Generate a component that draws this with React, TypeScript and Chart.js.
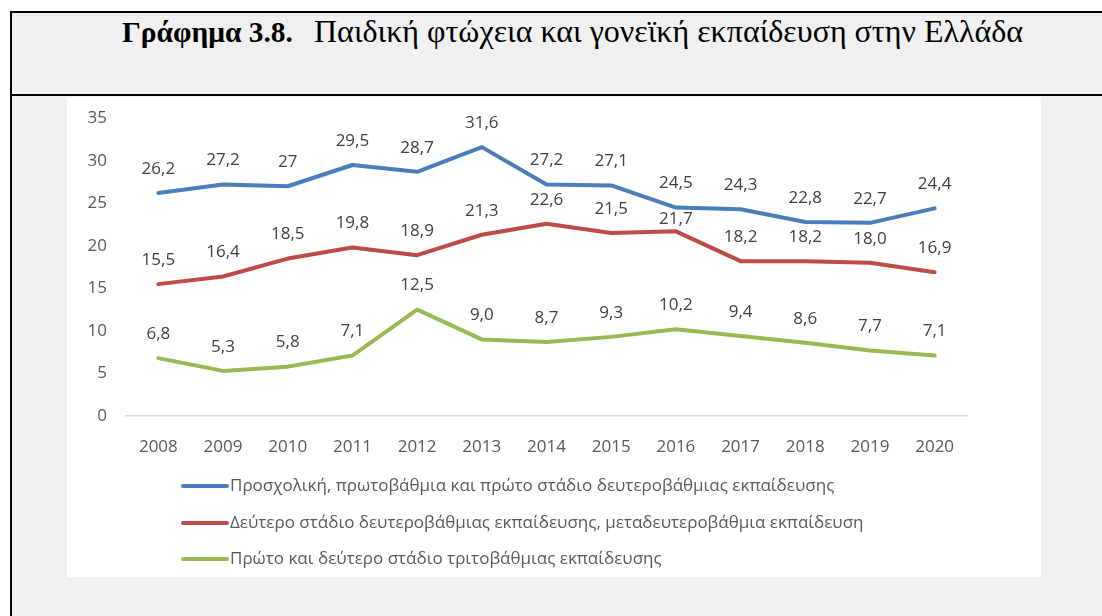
import React, { useEffect, useRef } from "react";
import { Chart, registerables } from "chart.js";

Chart.register(...registerables);

const years = ["2008", "2009", "2010", "2011", "2012", "2013", "2014", "2015", "2016", "2017", "2018", "2019", "2020"];
const lowerEdu = [26.2, 27.2, 27.0, 29.5, 28.7, 31.6, 27.2, 27.1, 24.5, 24.3, 22.8, 22.7, 24.4];
const upperSecondary = [15.5, 16.4, 18.5, 19.8, 18.9, 21.3, 22.6, 21.5, 21.7, 18.2, 18.2, 18.0, 16.9];
const tertiary = [6.8, 5.3, 5.8, 7.1, 12.5, 9.0, 8.7, 9.3, 10.2, 9.4, 8.6, 7.7, 7.1];
const seriesLabels = [
  "Προσχολική, πρωτοβάθμια και πρώτο στάδιο δευτεροβάθμιας εκπαίδευσης",
  "Δεύτερο στάδιο δευτεροβάθμιας εκπαίδευσης, μεταδευτεροβάθμια εκπαίδευση",
  "Πρώτο και δεύτερο στάδιο τριτοβάθμιας εκπαίδευσης",
];
const yTicks = [0, 5, 10, 15, 20, 25, 30, 35];

const FONT = "'Open Sans', 'Noto Sans', sans-serif";

// label placement: default distance above the point; one label sits closer (as in the source)
const LABEL_GAP = 24;
const labelGapOverride: Record<string, number> = { "1-8": 12 };

const fmtGeneral = (v: number) => String(v).replace(".", ",");
const fmtOneDec = (v: number) => v.toFixed(1).replace(".", ",");

const dataLabelPlugin = {
  id: "dataLabels",
  afterDatasetsDraw(chart: any) {
    const ctx = chart.ctx;
    ctx.save();
    ctx.font = `17px ${FONT}`;
    ctx.fillStyle = "#404040";
    ctx.textAlign = "center";
    ctx.textBaseline = "middle";
    chart.data.datasets.forEach((ds: any, di: number) => {
      const meta = chart.getDatasetMeta(di);
      meta.data.forEach((pt: any, i: number) => {
        const v = ds.data[i];
        const gap = labelGapOverride[`${di}-${i}`] ?? LABEL_GAP;
        ctx.fillText(ds.fmt(v), pt.x, pt.y - gap);
      });
    });
    ctx.restore();
  },
};

const legendPlugin = {
  id: "customLegend",
  afterDraw(chart: any) {
    const ctx = chart.ctx;
    ctx.save();
    ctx.font = `17px ${FONT}`;
    ctx.fillStyle = "#595959";
    ctx.textAlign = "left";
    ctx.textBaseline = "middle";
    const x0 = 116;
    const rowY = [389, 426, 462];
    chart.data.datasets.forEach((ds: any, di: number) => {
      const y = rowY[di];
      ctx.strokeStyle = ds.borderColor;
      ctx.lineWidth = 4;
      ctx.lineCap = "round";
      ctx.beginPath();
      ctx.moveTo(x0, y);
      ctx.lineTo(x0 + 44, y);
      ctx.stroke();
      ctx.fillText(ds.label, x0 + 47, y);
    });
    ctx.restore();
  },
};

function LineChart() {
  const ref = useRef<HTMLCanvasElement | null>(null);
  useEffect(() => {
    if (!ref.current) return;
    const mk = (label: string, data: number[], color: string, fmt: (v: number) => string) => ({
      label,
      data,
      borderColor: color,
      backgroundColor: color,
      borderWidth: 4,
      pointRadius: 0,
      tension: 0,
      borderCapStyle: "round",
      borderJoinStyle: "round",
      fmt,
    });
    const chart = new Chart(ref.current, {
      type: "line",
      data: {
        labels: years,
        datasets: [
          mk(seriesLabels[0], lowerEdu, "#4A7EBB", fmtGeneral),
          mk(seriesLabels[1], upperSecondary, "#BE4B48", fmtOneDec),
          mk(seriesLabels[2], tertiary, "#98B954", fmtOneDec),
        ] as any,
      },
      options: {
        animation: false,
        responsive: true,
        maintainAspectRatio: false,
        layout: { padding: { left: 0, top: 15, right: 74, bottom: 121 } },
        plugins: { legend: { display: false }, tooltip: { enabled: false } },
        scales: {
          x: {
            type: "category",
            offset: true,
            grid: { display: false },
            border: { display: true, color: "#d9d9d9", width: 1.5 },
            ticks: { color: "#595959", font: { family: FONT, size: 17 }, padding: 13, maxRotation: 0 },
            afterFit: (s: any) => { s.height = 40; },
          },
          y: {
            min: 0,
            max: 35,
            afterBuildTicks: (s: any) => { s.ticks = yTicks.map((v) => ({ value: v })); },
            grid: { display: false },
            border: { display: false },
            ticks: { color: "#595959", font: { family: FONT, size: 17 }, padding: 11 },
            afterFit: (s: any) => { s.width = 59; },
          },
        },
      },
      plugins: [dataLabelPlugin, legendPlugin],
    });
    return () => chart.destroy();
  }, []);
  return <canvas ref={ref} />;
}

export default function App() {
  return (
    <div style={{ position: "fixed", left: 0, top: 0, width: 1102, height: 616, background: "#ffffff", overflow: "hidden" }}>
      <div style={{ position: "absolute", left: 10, top: 11, width: 1200, height: 700, background: "#f0f0f0", borderLeft: "2px solid #000", borderTop: "2px solid #000", boxSizing: "border-box" }} />
      <div style={{ position: "absolute", left: 10, top: 94, width: 1200, height: 2, background: "#000" }} />
      <div style={{ position: "absolute", left: 122, top: 13, fontFamily: "'Liberation Serif', 'Times New Roman', serif", fontSize: 31, lineHeight: "36px", color: "#000", whiteSpace: "nowrap" }}>
        <b style={{ fontSize: 29.5 }}>Γράφημα 3.8.</b>
        <span style={{ marginLeft: 21, fontSize: 32 }}>Παιδική φτώχεια και γονεϊκή εκπαίδευση στην Ελλάδα</span>
      </div>
      <div style={{ position: "absolute", left: 67, top: 97, width: 974, height: 480, background: "#ffffff" }}>
        <LineChart />
      </div>
    </div>
  );
}
